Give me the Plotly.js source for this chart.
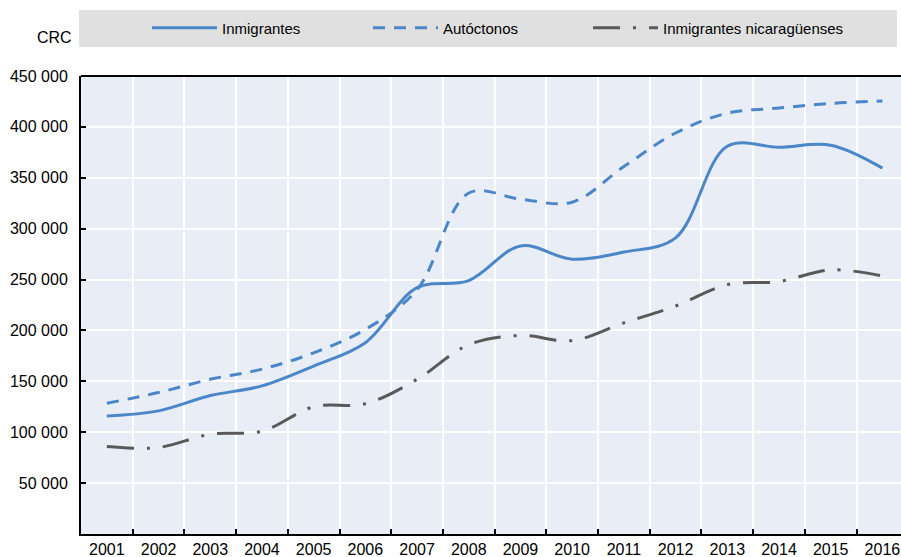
<!DOCTYPE html>
<html>
<head>
<meta charset="utf-8">
<script src="https://cdn.plot.ly/plotly-3.0.1.min.js"></script>
<style>html,body{margin:0;padding:0;background:#fff;}#chart{width:901px;height:557px;}</style>
</head>
<body>
<div id="chart"></div>
<script>
const years = ["2001","2002","2003","2004","2005","2006","2007","2008","2009","2010","2011","2012","2013","2014","2015","2016"];
const inmigrantes = [116000,121000,136000,145500,165000,188000,242000,249000,283000,270000,277000,291000,381000,380000,382000,359500];
const autoctonos = [128500,139000,152000,162000,178000,201000,240000,335000,329000,326000,361000,394000,413500,418500,423000,425500];
const nicaraguenses = [86000,85000,98000,101000,125000,128000,152000,186000,195000,190000,207500,224000,245000,248000,259500,253500];
const yTicks = [50000,100000,150000,200000,250000,300000,350000,400000,450000];
const yTickText = yTicks.map(v => String(v).replace(/(\d)(?=(\d{3})+$)/g, "$1 "));

const FONT = "Liberation Sans, Arial, sans-serif";
const traces = [
  {x: years, y: inmigrantes, name: "Inmigrantes", type: "scatter", mode: "lines", legend: "legend",
   line: {color: "#4a86c8", width: 3, shape: "spline", smoothing: 1}},
  {x: years, y: autoctonos, name: "Autóctonos", type: "scatter", mode: "lines", legend: "legend2",
   line: {color: "#4a86c8", width: 3, shape: "spline", smoothing: 1, dash: "12px,9px"}},
  {x: years, y: nicaraguenses, name: "Inmigrantes nicaragüenses", type: "scatter", mode: "lines", legend: "legend3",
   line: {color: "#595959", width: 3, shape: "spline", smoothing: 1, dash: "27px,13px,3px,13px"}}
];
const plotH = 557 - 76 - 23;
function mkLegend(px) {
  return {orientation: "h", x: (px - 81) / 820, xanchor: "left", y: (534 - 28) / plotH, yanchor: "middle",
    bgcolor: "rgba(0,0,0,0)", font: {family: FONT, size: 15, color: "#000"}, itemwidth: 65};
}
const layout = {
  width: 901, height: 557,
  margin: {l: 81, r: 0, t: 76, b: 23, pad: 0},
  paper_bgcolor: "#ffffff",
  plot_bgcolor: "#e9edf6",
  font: {family: FONT, size: 16, color: "#000"},
  showlegend: true,
  legend: mkLegend(147),
  legend2: mkLegend(368),
  legend3: mkLegend(588),
  xaxis: {type: "category", range: [-0.5, 15.36], tickson: "boundaries", ticks: "inside", ticklen: 5,
    tickcolor: "#000", tickwidth: 2, showline: true, linecolor: "#000", linewidth: 2,
    showgrid: true, gridcolor: "#ffffff", gridwidth: 2, zeroline: false,
    tickfont: {family: FONT, size: 16, color: "#000"}, fixedrange: true},
  yaxis: {range: [0, 450000], tickvals: yTicks, ticktext: yTickText, ticks: "inside", ticklen: 5,
    tickcolor: "#000", tickwidth: 2, showline: true, linecolor: "#000", linewidth: 2,
    showgrid: true, gridcolor: "#ffffff", gridwidth: 2, zeroline: false,
    tickfont: {family: FONT, size: 16, color: "#000"}, ticklabelstandoff: 8},
  shapes: [
    {type: "rect", xref: "paper", yref: "paper", x0: -0.0024, x1: 0.995,
     y0: (534 - 47) / plotH, y1: (534 - 10) / plotH,
     line: {width: 0}, fillcolor: "#e0e0e0", layer: "below"},
    {type: "line", xref: "paper", yref: "paper", x0: 0, x1: 1, y0: 1, y1: 1,
     line: {color: "#000", width: 2}}
  ],
  annotations: [
    {text: "CRC", xref: "paper", yref: "paper", x: -0.032, y: (534 - 38) / plotH, xanchor: "center", yanchor: "middle",
     showarrow: false, font: {family: FONT, size: 16, color: "#000"}}
  ]
};
Plotly.newPlot("chart", traces, layout, {displayModeBar: false, staticPlot: true});
</script>
</body>
</html>
